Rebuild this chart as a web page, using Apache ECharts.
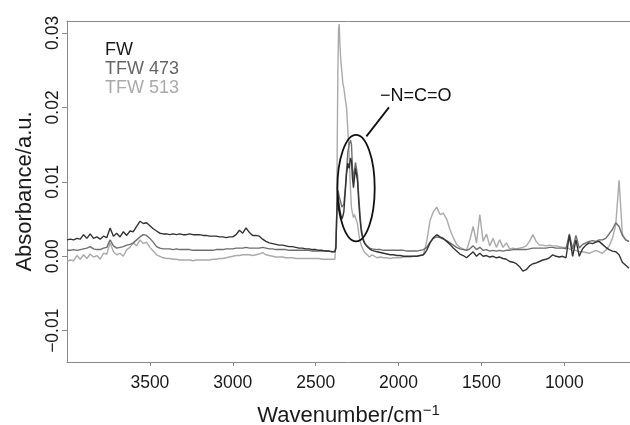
<!DOCTYPE html>
<html>
<head>
<meta charset="utf-8">
<script src="https://cdn.jsdelivr.net/npm/echarts@6/dist/echarts.min.js"></script>
<style>
  html, body { margin: 0; padding: 0; background: #fff; }
  #chart { width: 630px; height: 425px; }
</style>
</head>
<body>
<div id="chart"></div>
<script>
// wavenumber grid (cm-1), denser around the -N=C=O band
var wavenumbers = [
  4000, 3980, 3960, 3940, 3920, 3900, 3880, 3860, 3840, 3820,
  3800, 3780, 3760, 3740, 3720, 3700, 3680, 3660, 3640, 3620,
  3600, 3580, 3560, 3540, 3520, 3500, 3480, 3460, 3440, 3420,
  3400, 3380, 3360, 3340, 3320, 3300, 3280, 3260, 3240, 3220,
  3200, 3180, 3160, 3140, 3120, 3100, 3080, 3060, 3040, 3020,
  3000, 2980, 2960, 2940, 2920, 2900, 2880, 2860, 2840, 2820,
  2800, 2780, 2760, 2740, 2720, 2700, 2680, 2660, 2640, 2620,
  2600, 2580, 2560, 2540, 2520, 2500, 2480, 2460, 2440, 2420,
  2400,
  2390, 2384, 2378, 2374, 2370, 2366, 2362, 2358, 2354, 2348,
  2342, 2336, 2330, 2322, 2314, 2306, 2298, 2290, 2284, 2278,
  2272, 2266, 2260, 2254, 2248, 2240, 2232, 2224, 2214, 2204,
  2190, 2175, 2160,
  2150, 2130, 2110, 2090, 2070, 2050, 2030, 2010, 1990, 1970,
  1950, 1930, 1910, 1890, 1870, 1850, 1830, 1810, 1790, 1770,
  1750, 1730, 1710, 1690, 1670, 1650, 1630, 1610, 1590, 1570,
  1550, 1530, 1510, 1490, 1470, 1450, 1430, 1410, 1390, 1370,
  1350, 1330, 1310, 1290, 1270, 1250, 1230, 1210, 1190, 1170,
  1150, 1130, 1110, 1090, 1070, 1050, 1030, 1010, 990, 970,
  950, 930, 910, 890, 870, 850, 830, 810, 790, 770,
  750, 730, 710, 690, 670, 650, 630, 610
];

var fw = [
  0.0022, 0.0023, 0.0022, 0.0024, 0.0023, 0.0029, 0.0024, 0.0030, 0.0024, 0.0026,
  0.0023, 0.0027, 0.0025, 0.0038, 0.0027, 0.0031, 0.0026, 0.0033, 0.0028, 0.0034,
  0.0033, 0.0040, 0.0047, 0.0044, 0.0045, 0.0041, 0.0037, 0.0034, 0.0031, 0.0030,
  0.0030, 0.0029, 0.0030, 0.0029, 0.0030, 0.0029, 0.0029, 0.0030, 0.0029, 0.0029,
  0.0029, 0.0028, 0.0028, 0.0027, 0.0027, 0.0027, 0.0026, 0.0026, 0.0025, 0.0026,
  0.0026, 0.0029, 0.0035, 0.0031, 0.0038, 0.0032, 0.0028, 0.0028, 0.0027, 0.0023,
  0.0020, 0.0018, 0.0017, 0.0016, 0.0015, 0.0015, 0.0014, 0.0013, 0.0013, 0.0012,
  0.0011, 0.0011, 0.0010, 0.0010, 0.0009, 0.0009, 0.0008, 0.0008, 0.0007, 0.0007,
  0.0006,
  0.0006, 0.0006, 0.0012, 0.0045, 0.0072, 0.0082, 0.0075, 0.0068, 0.0062, 0.0055,
  0.0050, 0.0054, 0.0060, 0.0085, 0.0110, 0.0125, 0.0118, 0.0132, 0.0128, 0.0105,
  0.0092, 0.0105, 0.0118, 0.0120, 0.0102, 0.0072, 0.0048, 0.0032, 0.0022, 0.0017,
  0.0013, 0.0010, 0.0008,
  0.0007, 0.0006, 0.0005, 0.0004, 0.0003, 0.0002, 0.0002, 0.0001, 0.0001, 0.0000,
  0.0000, 0.0000, 0.0000, 0.0000, 0.0001, 0.0002, 0.0008, 0.0018, 0.0025, 0.0029,
  0.0026, 0.0024, 0.0020, 0.0016, 0.0011, 0.0007, 0.0003, 0.0001, -0.0002, 0.0002,
  0.0006, 0.0000, 0.0004, 0.0000, 0.0001, -0.0001, 0.0000, -0.0002, -0.0001, -0.0003,
  -0.0004, -0.0007, -0.0008, -0.0010, -0.0014, -0.0020, -0.0018, -0.0013, -0.0010, -0.0009,
  -0.0007, -0.0005, -0.0004, -0.0002, 0.0002, 0.0000, -0.0001, 0.0000, -0.0002, 0.0028,
  0.0000, 0.0022, 0.0000, 0.0010, 0.0015, 0.0018, 0.0017, 0.0019, 0.0020, 0.0016,
  0.0012, 0.0009, 0.0007, 0.0006, 0.0002, -0.0008, -0.0012, -0.0016
];

var tfw473 = [
  0.0008, 0.0008, 0.0009, 0.0008, 0.0009, 0.0010, 0.0011, 0.0013, 0.0010, 0.0009,
  0.0009, 0.0011, 0.0012, 0.0022, 0.0014, 0.0011, 0.0012, 0.0013, 0.0015, 0.0016,
  0.0018, 0.0022, 0.0026, 0.0029, 0.0028, 0.0024, 0.0019, 0.0013, 0.0011, 0.0010,
  0.0010, 0.0010, 0.0009, 0.0010, 0.0009, 0.0009, 0.0009, 0.0009, 0.0008, 0.0008,
  0.0008, 0.0008, 0.0008, 0.0008, 0.0008, 0.0009, 0.0009, 0.0009, 0.0010, 0.0010,
  0.0010, 0.0011, 0.0011, 0.0011, 0.0012, 0.0011, 0.0011, 0.0011, 0.0011, 0.0012,
  0.0011, 0.0010, 0.0010, 0.0009, 0.0009, 0.0009, 0.0009, 0.0008, 0.0008, 0.0008,
  0.0008, 0.0008, 0.0008, 0.0008, 0.0007, 0.0007, 0.0007, 0.0007, 0.0007, 0.0007,
  0.0006,
  0.0006, 0.0007, 0.0010, 0.0050, 0.0078, 0.0088, 0.0085, 0.0080, 0.0078, 0.0072,
  0.0066, 0.0064, 0.0070, 0.0090, 0.0115, 0.0140, 0.0150, 0.0156, 0.0150, 0.0118,
  0.0103, 0.0115, 0.0126, 0.0128, 0.0110, 0.0080, 0.0055, 0.0036, 0.0024, 0.0018,
  0.0014, 0.0011, 0.0010,
  0.0010, 0.0009, 0.0009, 0.0008, 0.0008, 0.0008, 0.0008, 0.0008, 0.0008, 0.0008,
  0.0007, 0.0007, 0.0007, 0.0007, 0.0008, 0.0009, 0.0012, 0.0019, 0.0024, 0.0026,
  0.0025, 0.0023, 0.0021, 0.0018, 0.0015, 0.0012, 0.0010, 0.0009, 0.0008, 0.0010,
  0.0014, 0.0009, 0.0012, 0.0008, 0.0009, 0.0007, 0.0008, 0.0007, 0.0008, 0.0007,
  0.0008, 0.0008, 0.0009, 0.0009, 0.0009, 0.0009, 0.0009, 0.0010, 0.0011, 0.0011,
  0.0011, 0.0011, 0.0011, 0.0012, 0.0012, 0.0011, 0.0011, 0.0011, 0.0010, 0.0030,
  0.0010, 0.0028, 0.0011, 0.0016, 0.0018, 0.0020, 0.0021, 0.0020, 0.0022, 0.0022,
  0.0024, 0.0030, 0.0036, 0.0045, 0.0040, 0.0028, 0.0022, 0.0020
];

var tfw513 = [
  -0.0007, -0.0005, -0.0006, 0.0001, -0.0004, 0.0002, -0.0003, 0.0003, -0.0001, 0.0001,
  -0.0004, 0.0004, 0.0003, 0.0018, 0.0006, 0.0002, 0.0004, 0.0000, 0.0009, 0.0012,
  0.0018, 0.0014, 0.0022, 0.0017, 0.0019, 0.0012, 0.0007, 0.0002, 0.0000, -0.0002,
  -0.0003, -0.0003, -0.0004, -0.0004, -0.0005, -0.0005, -0.0005, -0.0005, -0.0006, -0.0005,
  -0.0005, -0.0005, -0.0005, -0.0005, -0.0004, -0.0004, -0.0003, -0.0003, -0.0002, -0.0001,
  0.0000, 0.0001, 0.0001, 0.0002, 0.0002, 0.0002, 0.0001, 0.0002, 0.0003, 0.0005,
  0.0002, 0.0001, 0.0000, -0.0001, -0.0001, -0.0001, -0.0002, -0.0002, -0.0002, -0.0003,
  -0.0003, -0.0003, -0.0003, -0.0003, -0.0003, -0.0003, -0.0003, -0.0004, -0.0004, -0.0004,
  -0.0004,
  -0.0004, -0.0004, -0.0002, 0.0040, 0.0150, 0.0250, 0.0305, 0.0312, 0.0285, 0.0262,
  0.0248, 0.0232, 0.0226, 0.0212, 0.0200, 0.0170, 0.0135, 0.0090, 0.0065, 0.0058,
  0.0052, 0.0056, 0.0052, 0.0050, 0.0044, 0.0030, 0.0020, 0.0014, 0.0009, 0.0005,
  0.0002, -0.0001, 0.0002,
  0.0000, -0.0002, -0.0001, -0.0002, -0.0002, -0.0003, -0.0002, -0.0002, -0.0002, -0.0001,
  -0.0001, -0.0001, 0.0000, 0.0000, 0.0001, 0.0002, 0.0020, 0.0048, 0.0060, 0.0066,
  0.0056, 0.0058, 0.0050, 0.0036, 0.0025, 0.0016, 0.0012, 0.0010, 0.0008, 0.0022,
  0.0040, 0.0018, 0.0056, 0.0020, 0.0030, 0.0014, 0.0024, 0.0012, 0.0022, 0.0012,
  0.0018, 0.0010, 0.0011, 0.0010, 0.0011, 0.0012, 0.0014, 0.0020, 0.0029, 0.0020,
  0.0015, 0.0015, 0.0014, 0.0015, 0.0014, 0.0014, 0.0013, 0.0012, 0.0012, 0.0010,
  0.0008, 0.0008, 0.0006, 0.0006, 0.0005, 0.0004, 0.0006, 0.0008, 0.0006, 0.0004,
  0.0008, 0.0014, 0.0024, 0.0042, 0.0102, 0.0030, 0.0022, 0.0020
];

var xTicks = [3500, 3000, 2500, 2000, 1500, 1000];
var yTicks = [-0.01, 0, 0.01, 0.02, 0.03];

var font = "'Liberation Sans', Arial, Helvetica, sans-serif";
var axisGray = "#8a8a8a";

function pairs(ys) {
  return wavenumbers.map(function (w, i) { return [w, ys[i]]; });
}

function fmtY(v) {
  var s = Math.abs(v).toFixed(2);
  return v < -1e-9 ? "\u2212" + s : s;
}

var chart = echarts.init(document.getElementById("chart"), null, { renderer: "canvas" });

var option = {
  animation: false,
  backgroundColor: "#fff",
  grid: { left: 67, right: 0, top: 21, bottom: 63, containLabel: false, outerBoundsMode: "none" },
  legend: {
    orient: "vertical",
    left: 95,
    top: 36,
    icon: "none",
    itemWidth: 0,
    itemHeight: 14,
    itemGap: 0,
    selectedMode: false,
    textStyle: { fontFamily: font, fontSize: 18, lineHeight: 19 },
    data: [
      { name: "FW", textStyle: { color: "#1a1a1a" } },
      { name: "TFW 473", textStyle: { color: "#666666" } },
      { name: "TFW 513", textStyle: { color: "#aaaaaa" } }
    ]
  },
  xAxis: [
    {
      type: "value",
      inverse: true,
      min: 604,
      max: 4000,
      name: "{a|Wavenumber/cm}{b|\u22121}",
      nameLocation: "middle",
      nameGap: 41,
      nameTextStyle: {
        rich: {
          a: { fontFamily: font, fontSize: 22, color: "#1a1a1a", lineHeight: 26 },
          b: { fontFamily: font, fontSize: 15, color: "#1a1a1a", verticalAlign: "top", lineHeight: 15 }
        }
      },
      axisLine: { show: true, onZero: false, lineStyle: { color: axisGray, width: 1 } },
      axisTick: { show: true, length: 4, customValues: xTicks, lineStyle: { color: axisGray } },
      axisLabel: {
        customValues: xTicks,
        margin: 12,
        fontFamily: font,
        fontSize: 17.5,
        color: "#1a1a1a",
        formatter: function (v) { return String(v); }
      },
      splitLine: { show: false }
    },
    {
      type: "value",
      position: "top",
      inverse: true,
      min: 604,
      max: 4000,
      axisLine: { show: true, onZero: false, lineStyle: { color: axisGray, width: 1 } },
      axisTick: { show: false },
      axisLabel: { show: false },
      splitLine: { show: false }
    }
  ],
  yAxis: {
    type: "value",
    min: -0.0142,
    max: 0.0316,
    name: "Absorbance/a.u.",
    nameLocation: "middle",
    nameRotate: 90,
    nameGap: 19,
    nameTextStyle: { fontFamily: font, fontSize: 22, color: "#1a1a1a" },
    axisLine: { show: true, onZero: false, lineStyle: { color: axisGray, width: 1 } },
    axisTick: { show: true, length: 5, customValues: yTicks, lineStyle: { color: axisGray } },
    axisLabel: {
      customValues: yTicks,
      rotate: 90,
      margin: 5,
      fontFamily: font,
      fontSize: 17.5,
      color: "#1a1a1a",
      formatter: fmtY
    },
    splitLine: { show: false }
  },
  series: [
    {
      name: "TFW 513",
      type: "line",
      data: pairs(tfw513),
      showSymbol: false,
      symbol: "none",
      color: "#aaaaaa",
      lineStyle: { color: "#aaaaaa", width: 1.4 },
      z: 2
    },
    {
      name: "TFW 473",
      type: "line",
      data: pairs(tfw473),
      showSymbol: false,
      symbol: "none",
      color: "#6e6e6e",
      lineStyle: { color: "#6e6e6e", width: 1.4 },
      z: 3
    },
    {
      name: "FW",
      type: "line",
      data: pairs(fw),
      showSymbol: false,
      symbol: "none",
      color: "#333333",
      lineStyle: { color: "#333333", width: 1.4 },
      z: 4
    }
  ]
};

chart.setOption(option);

// -N=C=O annotation placed in data coordinates
function px(w, a) {
  return chart.convertToPixel({ gridIndex: 0 }, [w, a]);
}
var e1 = px(2369, 0.0163), e2 = px(2144, 0.0020);
var l1 = px(2194, 0.0161), l2 = px(2058, 0.0200);
var t1 = px(2112, 0.0215);

chart.setOption({
  graphic: [
    {
      type: "ellipse",
      shape: {
        cx: (e1[0] + e2[0]) / 2,
        cy: (e1[1] + e2[1]) / 2,
        rx: Math.abs(e2[0] - e1[0]) / 2,
        ry: Math.abs(e2[1] - e1[1]) / 2
      },
      style: { fill: null, stroke: "#111", lineWidth: 1.8 },
      z: 10
    },
    {
      type: "line",
      shape: { x1: l1[0], y1: l1[1], x2: l2[0], y2: l2[1] },
      style: { stroke: "#111", lineWidth: 1.8 },
      z: 10
    },
    {
      type: "text",
      x: t1[0],
      y: t1[1],
      style: {
        text: "\u2212N=C=O",
        fill: "#111",
        font: "18px " + font,
        textAlign: "left",
        textVerticalAlign: "middle"
      },
      z: 10
    }
  ]
});
</script>
</body>
</html>
